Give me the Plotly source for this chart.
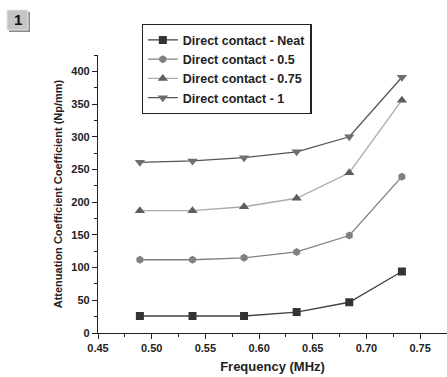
import plotly.graph_objects as go

freq = [0.489, 0.538, 0.586, 0.635, 0.684, 0.733]
neat = [26, 26, 26, 32, 47, 94]
c05 = [112, 112, 115, 124, 149, 239]
c075 = [187, 187, 193, 206, 245, 356]
c1 = [261, 263, 268, 277, 300, 391]

names = ["Direct contact - Neat", "Direct contact - 0.5",
         "Direct contact - 0.75", "Direct contact - 1"]
series = [neat, c05, c075, c1]
symbols = ["square", "hexagon", "triangle-up", "triangle-down"]
mcolors = ["#333333", "#808080", "#5e5e5e", "#6e6e6e"]
lcolors = ["#404040", "#808080", "#ababab", "#555555"]
msizes = [8, 8, 9, 9]

fig = go.Figure()
for n, s, sym, mc, lc, ms in zip(names, series, symbols, mcolors, lcolors, msizes):
    fig.add_trace(go.Scatter(
        x=freq, y=s, name=n, mode="lines+markers",
        line=dict(color=lc, width=1.3),
        marker=dict(symbol=sym, color=mc, size=ms, line=dict(width=0)),
    ))

font_family = "Liberation Sans, Arial, sans-serif"

fig.update_layout(
    width=447, height=377,
    margin=dict(l=98, r=0, t=55, b=44),
    paper_bgcolor="white", plot_bgcolor="white",
    font=dict(family=font_family, size=11, color="#222222", weight="bold"),
    showlegend=True,
    legend=dict(
        x=0.125, y=1.111, xanchor="left", yanchor="top",
        bordercolor="#222222", borderwidth=1.2, bgcolor="white",
        font=dict(size=12.5, color="#222222", weight="bold"),
        tracegroupgap=0, itemwidth=30,
    ),
    xaxis=dict(
        range=[0.45, 0.775], tickvals=[0.45, 0.5, 0.55, 0.6, 0.65, 0.7, 0.75],
        ticktext=["0.45", "0.50", "0.55", "0.60", "0.65", "0.70", "0.75"],
        showgrid=False, zeroline=False, showline=True, linecolor="#222222", linewidth=1.2,
        ticks="outside", ticklen=5, tickwidth=1.2, tickcolor="#222222",
        minor=dict(dtick=0.025, tick0=0.45, ticks="outside", ticklen=3, tickwidth=1, tickcolor="#222222"),
        title=dict(text="Frequency (MHz)", font=dict(size=13, weight="bold"), standoff=8),
        tickfont=dict(size=11, weight="bold"),
    ),
    yaxis=dict(
        range=[0, 425], tickvals=[0, 50, 100, 150, 200, 250, 300, 350, 400],
        showgrid=False, zeroline=False, showline=True, linecolor="#222222", linewidth=1.2,
        ticks="outside", ticklen=5, tickwidth=1.2, tickcolor="#222222",
        minor=dict(dtick=25, tick0=0, ticks="outside", ticklen=3, tickwidth=1, tickcolor="#222222"),
        title=dict(text="Attenuation Coefficient Coefficient (Np/mm)", font=dict(size=11, weight="bold"), standoff=6),
        tickfont=dict(size=11, weight="bold"),
    ),
)

# badge "1" at top-left
px = lambda v: (v - 98) / 349
py = lambda v: (333 - v) / 278
fig.add_shape(type="rect", xref="paper", yref="paper",
              x0=px(9), x1=px(30), y0=py(32), y1=py(12),
              fillcolor="#8c8c8c", line=dict(width=0), layer="above")
fig.add_shape(type="rect", xref="paper", yref="paper",
              x0=px(7), x1=px(28), y0=py(30), y1=py(10),
              fillcolor="#c4c4c4", line=dict(color="#e6e6e6", width=1), layer="above")
fig.add_annotation(xref="paper", yref="paper", x=px(17.5), y=py(20),
                   xanchor="center", yanchor="middle",
                   text="1", showarrow=False,
                   font=dict(size=15, color="#111111", weight="bold", family=font_family))

fig.write_html("out.html", config={"displayModeBar": False},
               post_script="document.body.style.margin='0';")
